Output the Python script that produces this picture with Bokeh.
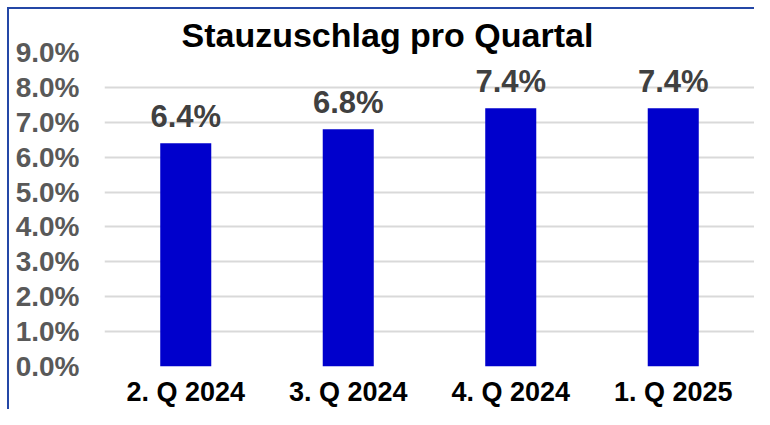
from bokeh.plotting import figure
from bokeh.models import ColumnDataSource, Range1d, FactorRange, PrintfTickFormatter, FixedTicker
from bokeh.core.properties import value
from bokeh.embed import file_html
from bokeh.resources import INLINE

# Data
categories = ["2. Q 2024", "3. Q 2024", "4. Q 2024", "1. Q 2025"]
values = [6.4, 6.8, 7.4, 7.4]
value_labels = ["6.4%", "6.8%", "7.4%", "7.4%"]
y_ticks = [0, 1, 2, 3, 4, 5, 6, 7, 8, 9]
title_text = "Stauzuschlag pro Quartal"

FONT = "Liberation Sans"
BORDER = "#2447a6"

src = ColumnDataSource(dict(cat=categories, val=values, lab=value_labels))

p = figure(
    x_range=FactorRange(*categories, range_padding=0, factor_padding=0),
    y_range=Range1d(0, 9.0),
    width=754, height=409,
    output_backend="svg", toolbar_location=None,
    min_border_left=104, min_border_right=0, min_border_top=52, min_border_bottom=41,
    styles={
        "background-color": "white",
        "background-image": f"linear-gradient({BORDER},{BORDER}), linear-gradient({BORDER},{BORDER})",
        "background-size": "100% 2px, 2px 100%",
        "background-position": "7px 7px, 7px 7px",
        "background-repeat": "no-repeat",
    },
)
p.outline_line_color = None
p.background_fill_color = "white"
p.border_fill_color = None

p.title.text = title_text
p.title.align = "left"
p.title.offset = 77
p.title.standoff = -3
p.title.text_font = FONT
p.title.text_font_style = "bold"
p.title.text_font_size = "34px"
p.title.text_color = "black"

p.vbar(x="cat", top="val", width=0.314, source=src, fill_color="#0000cc", line_color=None)

p.text(x="cat", y="val", text="lab", source=src, y_offset=-27,
       text_align="center", text_baseline="alphabetic",
       text_font=value(FONT), text_font_style="bold", text_font_size="31px",
       text_color="#404040")

# y axis
p.yaxis.ticker = FixedTicker(ticks=y_ticks)
p.yaxis.formatter = PrintfTickFormatter(format="%.1f%%")
p.yaxis.axis_line_color = None
p.yaxis.major_tick_line_color = None
p.yaxis.minor_tick_line_color = None
p.yaxis.major_tick_out = 0
p.yaxis.major_label_standoff = 25
p.yaxis.major_label_text_font = FONT
p.yaxis.major_label_text_font_style = "bold"
p.yaxis.major_label_text_font_size = "28px"
p.yaxis.major_label_text_color = "#595959"

# x axis
p.xaxis.axis_line_color = None
p.xaxis.major_tick_line_color = None
p.xaxis.major_tick_out = 0
p.xaxis.major_label_standoff = 10
p.xaxis.major_label_text_font = FONT
p.xaxis.major_label_text_font_style = "bold"
p.xaxis.major_label_text_font_size = "27px"
p.xaxis.major_label_text_color = "black"

p.xgrid.grid_line_color = None
p.ygrid.grid_line_color = "#d9d9d9"
p.ygrid.grid_line_width = 2

open("out.html", "w").write(file_html(p, INLINE))
